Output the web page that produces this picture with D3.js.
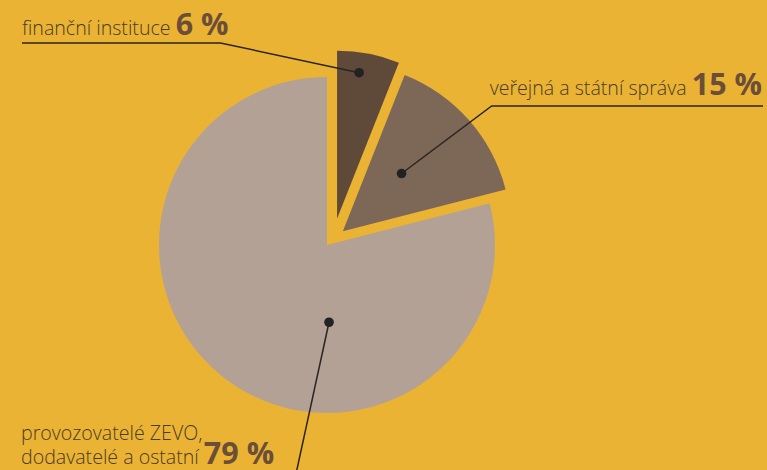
<!DOCTYPE html>
<html>
<head>
<meta charset="utf-8">
<script src="https://cdn.jsdelivr.net/npm/d3@7"></script>
<style>
  html, body { margin: 0; padding: 0; background: #eab333; }
  svg { display: block; }
</style>
</head>
<body>
<div id="chart"></div>
<script>
// data
var categories = ['finanční instituce', 'veřejná a státní správa', 'provozovatelé ZEVO, dodavatelé a ostatní'];
var shares = [6, 15, 79];
var labelLines = [['finanční instituce'], ['veřejná a státní správa'], ['provozovatelé ZEVO,', 'dodavatelé a ostatní']];

var width = 767, height = 470;
var cx = 327, cy = 245, radius = 168;

var colors = ['#5f4939', '#7d6756', '#b3a196'];
// slice pull-out: distance and direction (deg, clockwise from 12 o'clock)
var explode = [[28, 21], [21, 49], [0, 0]];
// where the leader dot sits inside each slice: angle (deg) and fraction of radius
var dotPos = [[8.6, 0.88], [45.5, 0.49], [178.5, 0.46]];

var svg = d3.select('#chart').append('svg')
  .attr('width', width).attr('height', height);

svg.append('rect').attr('width', width).attr('height', height).attr('fill', '#eab333');

var pie = d3.pie().sort(null).value(function (d) { return d; });
var arcs = pie(shares);
var arc = d3.arc().innerRadius(0).outerRadius(radius);

function rad(deg) { return deg * Math.PI / 180; }

var slices = svg.append('g').attr('transform', 'translate(' + cx + ',' + cy + ')');

var apex = arcs.map(function (a, i) {
  var d = explode[i][0], ang = rad(explode[i][1]);
  return [Math.sin(ang) * d, -Math.cos(ang) * d];
});

slices.selectAll('path')
  .data(arcs)
  .join('path')
  .attr('d', arc)
  .attr('fill', function (d, i) { return colors[i]; })
  .attr('transform', function (d, i) { return 'translate(' + apex[i][0] + ',' + apex[i][1] + ')'; });

// dot positions in page coords
var dots = arcs.map(function (a, i) {
  var ang = rad(dotPos[i][0]), r = dotPos[i][1] * radius;
  return [cx + apex[i][0] + Math.sin(ang) * r, cy + apex[i][1] - Math.cos(ang) * r];
});

var textColor = '#4b3b2c', pctColor = '#6a4e38', lineColor = '#2a2522';

function makeLabel(i, x, y, anchor) {
  var t = svg.append('text')
    .attr('x', x).attr('y', y)
    .attr('text-anchor', anchor)
    .style('font-family', '"Open Sans", sans-serif');
  var lines = labelLines[i];
  lines.forEach(function (ln, k) {
    t.append('tspan')
      .attr('x', x)
      .attr('dy', k === 0 ? 0 : 23.5)
      .attr('fill', textColor)
      .style('font-size', '19.6px')
      .style('font-weight', 300)
      .text(ln + (k === lines.length - 1 ? ' ' : ''));
  });
  t.append('tspan')
    .attr('fill', pctColor)
    .style('font-size', '30.5px')
    .style('font-weight', 700)
    .text(shares[i] + ' %');
  return t;
}

// label 1: top left, underlined, leader to dot
var l1 = makeLabel(0, 22, 35, 'start');
var b1 = l1.node().getBBox();
var u1 = [b1.x, b1.x + b1.width - 8];
svg.append('polyline')
  .attr('points', [[u1[0], 43], [u1[1], 43], dots[0]].map(function (p) { return p.join(','); }).join(' '))
  .attr('fill', 'none').attr('stroke', lineColor).attr('stroke-width', 1.5);

// label 2: right, underlined, leader from left end
var l2 = makeLabel(1, 762, 95, 'end');
var b2 = l2.node().getBBox();
svg.append('polyline')
  .attr('points', [[b2.x + b2.width + 1, 106], [b2.x + 2, 106], dots[1]].map(function (p) { return p.join(','); }).join(' '))
  .attr('fill', 'none').attr('stroke', lineColor).attr('stroke-width', 1.5);

// label 3: bottom left, leader runs off the bottom
makeLabel(2, 21, 440, 'start');
var p3 = dots[2], dir = [-17, 78];
var tEnd = (height + 5 - p3[1]) / dir[1];
svg.append('line')
  .attr('x1', p3[0]).attr('y1', p3[1])
  .attr('x2', p3[0] + dir[0] * tEnd).attr('y2', height + 5)
  .attr('stroke', lineColor).attr('stroke-width', 1.5);

svg.selectAll('circle.dot')
  .data(dots)
  .join('circle')
  .attr('class', 'dot')
  .attr('cx', function (d) { return d[0]; })
  .attr('cy', function (d) { return d[1]; })
  .attr('r', 4.8)
  .attr('fill', '#222');
</script>
</body>
</html>
